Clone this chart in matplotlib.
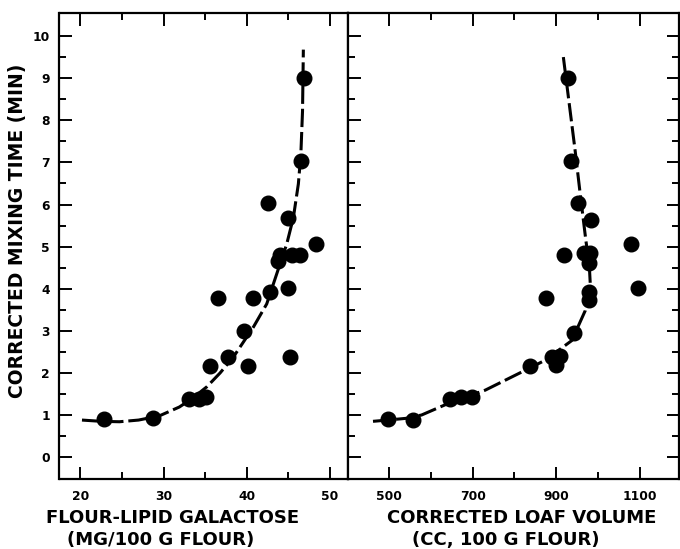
import matplotlib
matplotlib.use("Agg")
import matplotlib.pyplot as plt
from matplotlib.ticker import FixedLocator

# ---- data ----
gal_x = [22.8, 28.7, 33.0, 34.3, 35.1, 35.6, 36.6, 37.8, 39.7, 40.2, 40.7, 42.8,
         42.5, 43.7, 44.0, 45.0, 45.2, 44.9, 45.4, 46.4, 48.3, 46.5, 46.9]
gal_y = [0.90, 0.93, 1.37, 1.37, 1.43, 2.16, 3.77, 2.38, 2.99, 2.17, 3.77, 3.93,
         6.04, 4.67, 4.79, 4.02, 2.38, 5.67, 4.79, 4.79, 5.06, 7.04, 9.00]

vol_x = [497, 558, 646, 672, 698, 836, 889, 899, 909, 941, 876, 977,
         977, 1096, 977, 919, 965, 981, 1079, 982, 951, 935, 927]
vol_y = [0.90, 0.89, 1.39, 1.43, 1.43, 2.16, 2.38, 2.18, 2.40, 2.95, 3.78, 3.74,
         3.92, 4.02, 4.60, 4.79, 4.84, 4.86, 5.06, 5.63, 6.03, 7.04, 9.01]

gal_curve_x = [20.2, 22.5, 24.7, 27.0, 29.5, 31.9, 33.5, 35.2, 36.8, 38.4, 40.8,
               42.4, 44.0, 44.8, 45.6, 46.2, 46.5, 46.7, 46.8]
gal_curve_y = [0.88, 0.85, 0.84, 0.88, 0.98, 1.19, 1.40, 1.67, 2.00, 2.38, 3.09,
               3.64, 4.59, 5.06, 5.69, 6.49, 7.20, 8.22, 9.68]

vol_curve_x = [462, 497, 540, 578, 650, 730, 817, 873, 937, 969, 981, 978.5,
               970.6, 957, 945, 925, 915.5]
vol_curve_y = [0.85, 0.88, 0.92, 1.00, 1.31, 1.59, 2.02, 2.30, 2.77, 3.48, 4.12,
               4.59, 5.14, 6.25, 7.27, 8.85, 9.60]

y_major = list(range(0, 11))
y_minor = [i + 0.5 for i in range(0, 10)]
gal_major = [20, 30, 40, 50]
gal_minor = [25, 35, 45]
vol_major = [500, 700, 900, 1100]
vol_minor = [600, 800, 1000]
vol_major_labels = ["500", "700", "900", "1100"]

ylabel = "CORRECTED MIXING TIME (MIN)"
xlabel_left = ["FLOUR-LIPID GALACTOSE", "(MG/100 G FLOUR)"]
xlabel_right = ["CORRECTED LOAF VOLUME", "(CC, 100 G FLOUR)"]

plt.rcParams['font.family'] = ['DejaVu Sans']

W, H = 680, 549
fig = plt.figure(figsize=(W / 100, H / 100), dpi=100)
ax1 = fig.add_axes([59.5 / W, 1 - 479 / H, (348.3 - 59.5) / W, (479 - 13) / H])
ax2 = fig.add_axes([348.3 / W, 1 - 479 / H, (679 - 348.3) / W, (479 - 13) / H])

lw_sp = 1.6
tick_fs = 8.8
for ax in (ax1, ax2):
    for s in ax.spines.values():
        s.set_linewidth(lw_sp)
    ax.set_ylim(-0.52, 10.55)
    ax.yaxis.set_major_locator(FixedLocator(y_major))
    ax.yaxis.set_minor_locator(FixedLocator(y_minor))
    ax.tick_params(which='both', direction='in', top=True, width=1.4, colors='black')
    ax.tick_params(which='major', length=9)
    ax.tick_params(which='minor', length=5)
    ax.tick_params(axis='x', labelsize=tick_fs, pad=8)

# left panel
ax1.set_xlim(17.5, 52.2)
ax1.xaxis.set_major_locator(FixedLocator(gal_major))
ax1.xaxis.set_minor_locator(FixedLocator(gal_minor))
ax1.tick_params(which='both', left=True, right=False)
ax1.tick_params(axis='y', labelsize=tick_fs, pad=7)
ax1.plot(gal_curve_x, gal_curve_y, color='black', lw=2.2, dashes=(6, 1.6),
         dash_capstyle='butt', zorder=2)
ax1.plot(gal_x, gal_y, 'o', color='black', ms=10.5, zorder=3)

# right panel
ax2.set_xlim(403, 1193)
ax2.xaxis.set_major_locator(FixedLocator(vol_major))
ax2.xaxis.set_minor_locator(FixedLocator(vol_minor))
ax2.set_xticklabels(vol_major_labels)
ax2.tick_params(which='both', left=True, right=True, labelleft=False)
ax2.plot(vol_curve_x, vol_curve_y, color='black', lw=2.2, dashes=(6, 1.6),
         dash_capstyle='butt', zorder=2)
ax2.plot(vol_x, vol_y, 'o', color='black', ms=10.5, zorder=3)

for ax in (ax1, ax2):
    for lab in ax.get_xticklabels() + ax.get_yticklabels():
        lab.set_fontweight('bold')

# axis titles
lab_fs = 13
fig.text(18 / W, 1 - 231 / H, ylabel, rotation=90, ha='center', va='center',
         fontsize=13.5, fontweight='bold')
fig.text(173 / W, 1 - 518 / H, xlabel_left[0], ha='center', va='center',
         fontsize=lab_fs, fontweight='bold')
fig.text(161 / W, 1 - 540 / H, xlabel_left[1], ha='center', va='center',
         fontsize=lab_fs, fontweight='bold')
fig.text(522 / W, 1 - 518 / H, xlabel_right[0], ha='center', va='center',
         fontsize=lab_fs, fontweight='bold')
fig.text(506 / W, 1 - 540 / H, xlabel_right[1], ha='center', va='center',
         fontsize=lab_fs, fontweight='bold')

fig.savefig("out.png", dpi=100)
